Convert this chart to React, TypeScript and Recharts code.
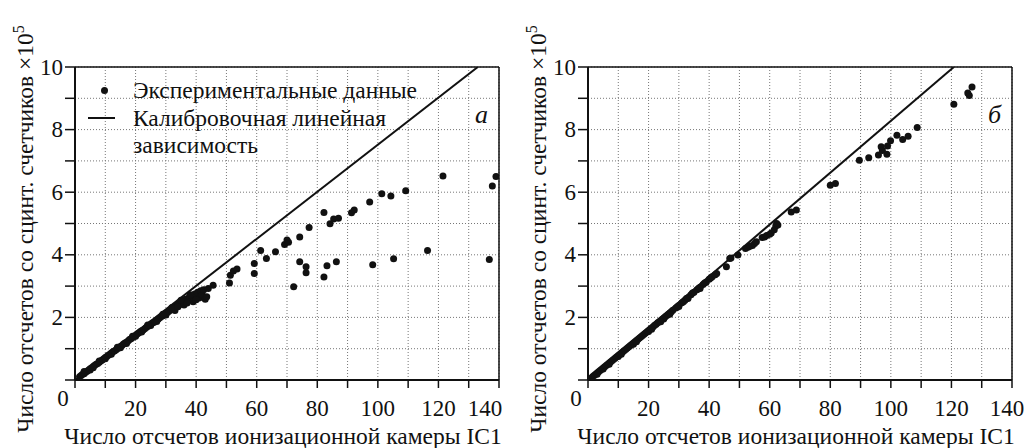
import { ScatterChart, Scatter, XAxis, YAxis, CartesianGrid, ReferenceLine } from 'recharts';

const xTicks = [0, 10, 20, 30, 40, 50, 60, 70, 80, 90, 100, 110, 120, 130, 140];
const yTicks = [0, 1, 2, 3, 4, 5, 6, 7, 8, 9, 10];
const xLabels = [20, 40, 60, 80, 100, 120, 140];
const yLabels = [2, 4, 6, 8, 10];

// panel a: dense band near the calibration line
const bandA = [
  [1.5, 0.1], [2, 0.14], [2.5, 0.18], [3, 0.2], [3.5, 0.25], [4, 0.28], [4.5, 0.32], [5, 0.36], [5, 0.32],
  [5.5, 0.39], [6, 0.43], [6.5, 0.47], [7, 0.5], [7.5, 0.53], [8, 0.57], [8.5, 0.61], [9, 0.64], [9.5, 0.68],
  [10, 0.72], [10, 0.68], [10.5, 0.75], [11, 0.79], [11.5, 0.82], [12, 0.86], [12.5, 0.9], [13, 0.93],
  [13.5, 0.96], [14, 1.0], [14.5, 1.04], [15, 1.07], [15, 1.03], [15.5, 1.1], [16, 1.15], [16.5, 1.18],
  [17, 1.21], [17.5, 1.25], [18, 1.29], [18.5, 1.32], [19, 1.36], [19.5, 1.39], [20, 1.43], [20, 1.4],
  [20.5, 1.47], [21, 1.5], [21.5, 1.54], [22, 1.57], [22.5, 1.6], [23, 1.64], [23.5, 1.68], [24, 1.71],
  [24.5, 1.74], [25, 1.78], [25, 1.74], [25.5, 1.82], [26, 1.84], [26.5, 1.88], [27, 1.92], [27.5, 1.95],
  [28, 1.99], [28.5, 2.03], [29, 2.05], [29.5, 2.1], [30, 2.13], [30, 2.08], [30.5, 2.16], [31, 2.2],
  [31.5, 2.24], [32, 2.26], [32.5, 2.32], [33, 2.3], [33, 2.22], [33.5, 2.38], [34, 2.4], [34.5, 2.45],
  [35, 2.42], [35.5, 2.52], [36, 2.5], [36, 2.4], [36.5, 2.58], [37, 2.55], [37.5, 2.62], [38, 2.6],
  [38.5, 2.7], [39, 2.64], [39, 2.5], [39.5, 2.75], [40, 2.68], [40.5, 2.8], [41, 2.62], [41.5, 2.85],
  [42, 2.72], [42.5, 2.88], [43, 2.58], [43.5, 2.66], [44, 2.92],
  [3, 0.27], [6, 0.39], [8, 0.61], [12, 0.82], [14, 1.05], [17, 1.17], [19, 1.4], [22, 1.53], [24, 1.76],
  [27, 1.87], [29, 2.1], [32, 2.32], [34, 2.34], [35, 2.55], [37, 2.46], [38, 2.72], [40, 2.56],
];

const scatterA = [
  [45.6, 3.03], [51, 3.1], [51.3, 3.35], [52.3, 3.48], [53.5, 3.55], [59.2, 3.72], [59.2, 3.4], [61.3, 4.14],
  [63.2, 3.88], [66.2, 4.1], [69.2, 4.33], [70, 4.47], [70.5, 4.4], [72.2, 2.98], [74.2, 4.57], [74.2, 3.78],
  [76.3, 3.62], [76.3, 3.43], [77.3, 4.87], [82.2, 5.35], [82.2, 3.29], [83.2, 3.65], [84.2, 4.99],
  [85.4, 5.14], [86.3, 3.78], [87, 5.17], [91.3, 5.34], [92.2, 5.43], [97.3, 5.69], [98.3, 3.68],
  [101.3, 5.95], [104.3, 5.88], [105.2, 3.87], [109.2, 6.05], [116.4, 4.14], [121.5, 6.52],
  [136.8, 3.85], [137.8, 6.2], [139, 6.5],
];

const calibA = [[0, 0], [133, 10]];

// panel б
const bandB = [
  [1, 0.05], [1.5, 0.1], [2, 0.14], [2.5, 0.18], [3, 0.22], [3.5, 0.26], [4, 0.3], [4.5, 0.34], [5, 0.38],
  [5, 0.35], [5.5, 0.42], [6, 0.46], [6.5, 0.5], [7, 0.54], [7.5, 0.58], [8, 0.62], [8.5, 0.66], [9, 0.7],
  [9.5, 0.74], [10, 0.78], [10, 0.75], [10.5, 0.82], [11, 0.86], [11.5, 0.9], [12, 0.94], [12.5, 0.98],
  [13, 1.02], [13.5, 1.06], [14, 1.1], [14.5, 1.14], [15, 1.18], [15, 1.14], [15.5, 1.22], [16, 1.26],
  [16.5, 1.3], [17, 1.34], [17.5, 1.38], [18, 1.42], [18.5, 1.46], [19, 1.5], [19.5, 1.54], [20, 1.58],
  [20, 1.55], [20.5, 1.62], [21, 1.66], [21.5, 1.7], [22, 1.75], [22.5, 1.78], [23, 1.83], [23.5, 1.86],
  [24, 1.9], [24.5, 1.94], [25, 1.98], [25, 1.95], [25.5, 2.02], [26, 2.06], [26.5, 2.1], [27, 2.14],
  [27.5, 2.18], [28, 2.23], [29, 2.3], [29.5, 2.34], [30, 2.38], [30, 2.35], [31, 2.47], [31.5, 2.5],
  [32, 2.55], [32.5, 2.6], [33, 2.63], [34, 2.72], [34.5, 2.78], [35, 2.8], [36, 2.88], [36.5, 2.92],
  [37, 2.96], [38, 3.05], [38.5, 3.1], [39, 3.12], [40, 3.22], [40.5, 3.26], [41, 3.3], [42, 3.36],
  [42.5, 3.4], [45.7, 3.62], [46.8, 3.88], [47.2, 3.9], [49.5, 3.99], [52, 4.2], [52.8, 4.24], [53.5, 4.27],
  [54.3, 4.3], [55, 4.36], [55.6, 4.42], [57.5, 4.55], [58.3, 4.57], [59, 4.62], [60, 4.66], [60.5, 4.7],
  [61.5, 4.8], [62, 4.92], [62.7, 4.95], [62.3, 5.0],
  [3, 0.18], [7, 0.5], [11, 0.82], [16, 1.22], [21, 1.62], [24, 1.86], [27, 2.1], [33, 2.6], [37, 2.92],
];

const scatterB = [
  [67.1, 5.37], [68.8, 5.43], [80, 6.22], [81.7, 6.28], [89.6, 7.02], [92.7, 7.1], [95.9, 7.19],
  [96.8, 7.45], [97.2, 7.33], [98.7, 7.21], [98.9, 7.48], [99.9, 7.64], [102, 7.82], [103.9, 7.68],
  [105.7, 7.79], [108.7, 8.07], [120.8, 8.81], [125.4, 9.17], [125.9, 9.09], [126.8, 9.36],
];

const calibB = [[0, 0], [120.8, 10]];

const yTitle = 'Число отсчетов со сцинт. счетчиков ×10';
const xTitle = 'Число отсчетов ионизационной камеры IC1';
const legendItems = ['Экспериментальные данные', 'Калибровочная линейная', 'зависимость'];

const FONT = '"Liberation Serif", "Times New Roman", Tinos, Times';
const INK = '#111';
const FS = 23;
const TFS = 23.5;

const toPts = (arr: number[][]) => arr.map(([x, y]) => ({ x, y }));

function XTick({ x, y, payload, lastShift }: any) {
  const v = payload.value;
  const common = { textAnchor: 'middle' as const, dominantBaseline: 'central' as const, fontSize: FS, fontFamily: FONT, fill: INK, style: { fontFamily: FONT } };
  if (v === 0) {
    return (
      <text x={x - 12} y={y + 8} {...common}>
        0
      </text>
    );
  }
  if (!xLabels.includes(v)) return <g />;
  return (
    <text x={v === 140 ? x + lastShift : x} y={y + 18} {...common}>
      {v}
    </text>
  );
}

function YTick({ x, y, payload }: any) {
  const v = payload.value;
  if (!yLabels.includes(v)) return <g />;
  return (
    <text x={x} y={y} textAnchor="end" dominantBaseline="central" fontSize={FS} fontFamily={FONT} fill={INK} style={{ fontFamily: FONT }}>
      {v}
    </text>
  );
}

const Dot = (p: any) => <circle cx={p.cx} cy={p.cy} r={3.5} fill={INK} />;
const NoDot = () => <g />;

function Panel({ band, scatter, calib, letter, left, lastShift }: any) {
  return (
    <div style={{ position: 'absolute', left, top: 0, width: 514, height: 448 }}>
      <ScatterChart width={514} height={448} margin={{ top: 67, right: 15, bottom: 0, left: 0 }} style={{ overflow: 'visible' }}>
        <CartesianGrid stroke="#777" strokeDasharray="1 2" strokeWidth={1} />
        <XAxis
          type="number"
          dataKey="x"
          domain={[0, 140]}
          ticks={xTicks}
          interval={0}
          height={68}
          tickSize={8}
          tickMargin={2}
          tick={<XTick lastShift={lastShift} />}
          axisLine={{ stroke: INK, strokeWidth: 2 }}
          tickLine={{ stroke: INK, strokeWidth: 1.5 }}
          allowDataOverflow
        />
        <YAxis
          type="number"
          dataKey="y"
          domain={[0, 10]}
          ticks={yTicks}
          interval={0}
          width={75}
          tickSize={10}
          tickMargin={2}
          tick={<YTick />}
          axisLine={{ stroke: INK, strokeWidth: 2 }}
          tickLine={{ stroke: INK, strokeWidth: 1.5 }}
          allowDataOverflow
        />
        <ReferenceLine y={10} stroke={INK} strokeWidth={1.5} />
        <ReferenceLine x={140} stroke={INK} strokeWidth={1.5} />
        <Scatter data={toPts(band)} shape={Dot} isAnimationActive={false} />
        <Scatter data={toPts(scatter)} shape={Dot} isAnimationActive={false} />
        <Scatter
          data={toPts(calib)}
          shape={NoDot}
          line={{ stroke: INK, strokeWidth: 2 }}
          isAnimationActive={false}
        />
      </ScatterChart>
      {/* y title */}
      <div
        className="serif"
        style={{
          position: 'absolute',
          left: 25 - 240,
          top: 229 - 15,
          width: 480,
          height: 30,
          lineHeight: '30px',
          textAlign: 'center',
          transform: 'rotate(-90deg)',
          fontSize: TFS,
          color: INK,
          whiteSpace: 'nowrap',
        }}
      >
        {yTitle}
        <sup style={{ fontSize: 16, lineHeight: 0 }}>5</sup>
      </div>
      {/* x title */}
      <div
        className="serif"
        style={{
          position: 'absolute',
          left: 283 - 240,
          top: 425,
          width: 480,
          height: 22,
          lineHeight: '22px',
          textAlign: 'center',
          fontSize: TFS,
          color: INK,
          whiteSpace: 'nowrap',
        }}
      >
        {xTitle}
      </div>
      <div
        className="serif"
        style={{
          position: 'absolute',
          left: 475,
          top: 100,
          fontSize: 26,
          fontStyle: 'italic',
          color: INK,
          lineHeight: '30px',
        }}
      >
        {letter}
      </div>
    </div>
  );
}

function Legend() {
  const text = { position: 'absolute' as const, left: 133, fontSize: TFS, color: INK, lineHeight: '28px', whiteSpace: 'nowrap' as const };
  return (
    <>
      <div style={{ position: 'absolute', left: 104 - 3.5, top: 90 - 3.5, width: 7, height: 7, borderRadius: '50%', background: INK }} />
      <div style={{ position: 'absolute', left: 88, top: 117, width: 27, height: 2, background: INK }} />
      <div className="serif" style={{ ...text, top: 90 - 14 }}>{legendItems[0]}</div>
      <div className="serif" style={{ ...text, top: 118 - 14 }}>{legendItems[1]}</div>
      <div className="serif" style={{ ...text, top: 145 - 14 }}>{legendItems[2]}</div>
    </>
  );
}

export default function App() {
  return (
    <div className="serif" style={{ position: 'absolute', left: 0, top: 0, width: 1028, height: 448, background: '#fff', overflow: 'hidden' }}>
      <style>{`.serif, .serif *, .serif text { font-family: ${FONT} !important; }`}</style>
      <Panel band={bandA} scatter={scatterA} calib={calibA} letter="а" left={0} lastShift={-14} />
      <Panel band={bandB} scatter={scatterB} calib={calibB} letter="б" left={513} lastShift={-5} />
      <Legend />
    </div>
  );
}
